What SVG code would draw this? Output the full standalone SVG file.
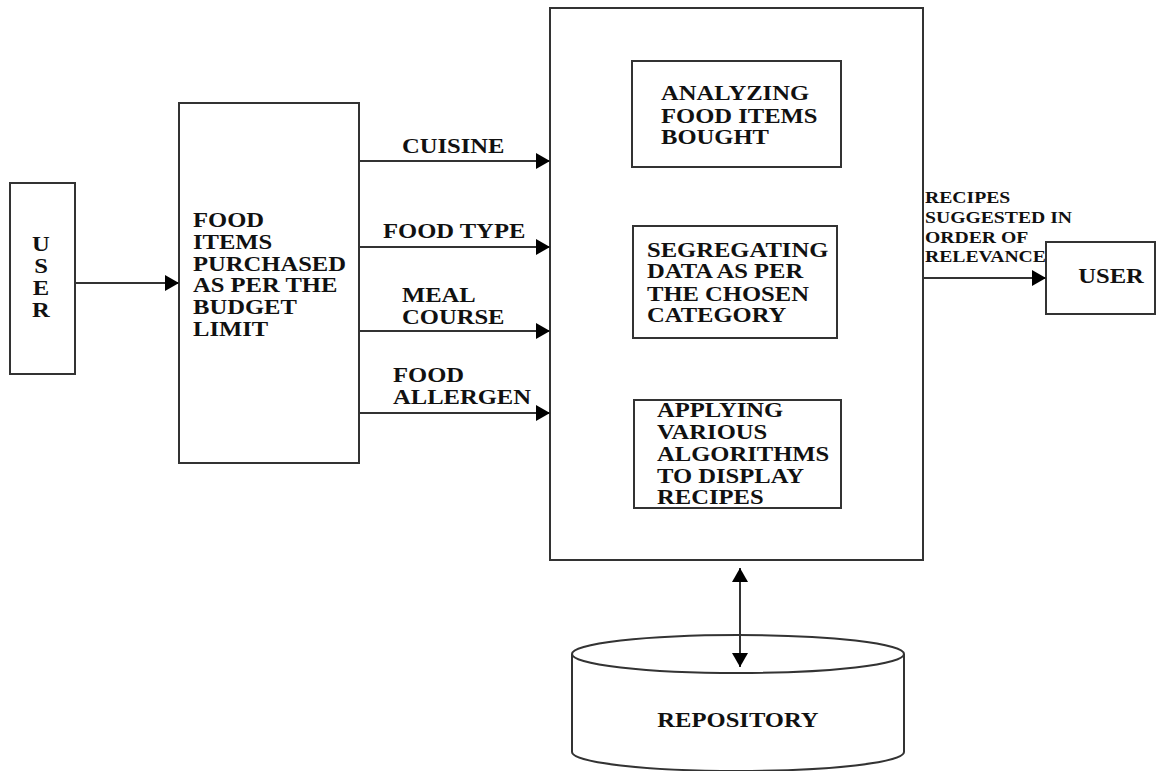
<svg xmlns="http://www.w3.org/2000/svg" width="1168" height="771" viewBox="0 0 1168 771">
<style>
.box{fill:#fff;stroke:#333;stroke-width:2}
.ln{fill:none;stroke:#333;stroke-width:2}
.t{font-family:"Liberation Serif","Times New Roman",serif;font-weight:bold;font-size:20px;fill:#111}
.s{font-size:16px}
.c{text-anchor:middle}
</style>
<defs>
<marker id="ah" markerUnits="userSpaceOnUse" markerWidth="14" markerHeight="16" refX="14" refY="8" orient="auto-start-reverse">
<path d="M0,0 L14,8 L0,16 Z" fill="#000"/>
</marker>
</defs>
<rect width="1168" height="771" fill="#fff"/>
<g id="user-left">
<rect class="box" x="10" y="183" width="65" height="191"/>
<g transform="translate(41,251) scale(1.23,1)"><text class="t c"><tspan x="0" y="0">U</tspan><tspan x="0" y="22">S</tspan><tspan x="0" y="44">E</tspan><tspan x="0" y="66">R</tspan></text></g>
</g>
<g id="food-items">
<rect class="box" x="179" y="103" width="180" height="360"/>
<g transform="translate(193,227) scale(1.23,1)"><text class="t"><tspan x="0" y="0">FOOD</tspan><tspan x="0" y="22">ITEMS</tspan><tspan x="0" y="44">PURCHASED</tspan><tspan x="0" y="65">AS PER THE</tspan><tspan x="0" y="87">BUDGET</tspan><tspan x="0" y="109">LIMIT</tspan></text></g>
</g>
<g id="process">
<rect class="box" x="550" y="8" width="373" height="552"/>
</g>
<g id="analyzing">
<rect class="box" x="632" y="61" width="209" height="106"/>
<g transform="translate(661,100) scale(1.23,1)"><text class="t"><tspan x="0" y="0">ANALYZING</tspan><tspan x="0" y="23">FOOD ITEMS</tspan><tspan x="0" y="44">BOUGHT</tspan></text></g>
</g>
<g id="segregating">
<rect class="box" x="633" y="226" width="204" height="112"/>
<g transform="translate(647,257) scale(1.23,1)"><text class="t"><tspan x="0" y="0">SEGREGATING</tspan><tspan x="0" y="21">DATA AS PER</tspan><tspan x="0" y="44">THE CHOSEN</tspan><tspan x="0" y="65">CATEGORY</tspan></text></g>
</g>
<g id="applying">
<rect class="box" x="634" y="400" width="207" height="108"/>
<g transform="translate(657,417) scale(1.23,1)"><text class="t"><tspan x="0" y="0">APPLYING</tspan><tspan x="0" y="22">VARIOUS</tspan><tspan x="0" y="44">ALGORITHMS</tspan><tspan x="0" y="66">TO DISPLAY</tspan><tspan x="0" y="87">RECIPES</tspan></text></g>
</g>
<g id="user-right">
<rect class="box" x="1046" y="242" width="109" height="72"/>
<g transform="translate(1111,283) scale(1.23,1)"><text class="t c">USER</text></g>
</g>
<g id="repository">
<path class="box" d="M572,654 L572,752 A166,19 0 0 0 904,752 L904,654"/>
<ellipse class="box" cx="738" cy="654" rx="166" ry="19"/>
<g transform="translate(738,727) scale(1.23,1)"><text class="t c">REPOSITORY</text></g>
</g>
<g id="connectors">
<line class="ln" x1="75" y1="283" x2="179" y2="283" marker-end="url(#ah)"/>
<line class="ln" x1="359" y1="161" x2="550" y2="161" marker-end="url(#ah)"/>
<line class="ln" x1="359" y1="247" x2="550" y2="247" marker-end="url(#ah)"/>
<line class="ln" x1="359" y1="331" x2="550" y2="331" marker-end="url(#ah)"/>
<line class="ln" x1="359" y1="413" x2="550" y2="413" marker-end="url(#ah)"/>
<line class="ln" x1="923" y1="278" x2="1046" y2="278" marker-end="url(#ah)"/>
<line class="ln" x1="740" y1="568" x2="740" y2="667" marker-start="url(#ah)" marker-end="url(#ah)"/>
<g transform="translate(402,153) scale(1.23,1)"><text class="t">CUISINE</text></g>
<g transform="translate(383,238) scale(1.23,1)"><text class="t">FOOD TYPE</text></g>
<g transform="translate(402,302) scale(1.23,1)"><text class="t"><tspan x="0" y="0">MEAL</tspan><tspan x="0" y="22">COURSE</tspan></text></g>
<g transform="translate(393,382) scale(1.23,1)"><text class="t"><tspan x="0" y="0">FOOD</tspan><tspan x="0" y="22">ALLERGEN</tspan></text></g>
<g transform="translate(925,203) scale(1.23,1)"><text class="t s"><tspan x="0" y="0">RECIPES</tspan><tspan x="0" y="20">SUGGESTED IN</tspan><tspan x="0" y="40">ORDER OF</tspan><tspan x="0" y="59">RELEVANCE</tspan></text></g>
</g>
</svg>
